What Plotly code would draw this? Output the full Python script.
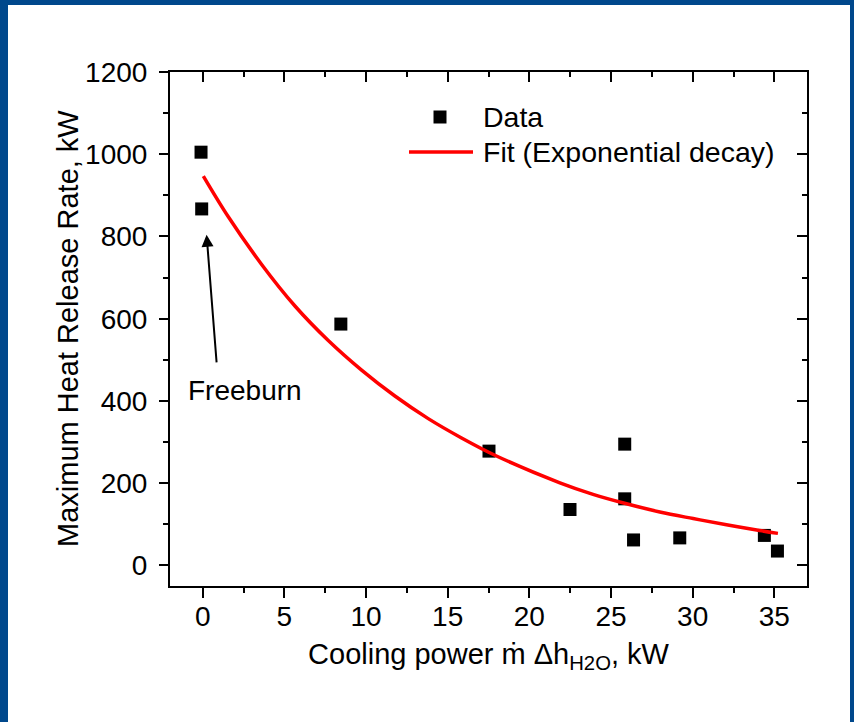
import plotly.graph_objects as go

# ---- data ----
cooling_power = [-0.1, -0.06, 8.46, 17.53, 22.49, 25.84, 25.84, 26.38, 29.21, 34.39, 35.19]
max_hrr = [1005, 867, 587, 278, 136, 295, 162, 62, 67, 73, 35]

fit_x = [0.04, 1.57, 3.61, 5.65, 7.69, 9.73, 11.77, 13.81, 15.85, 17.89,
         21.87, 23.9, 25.95, 27.99, 30.03, 32.07, 34.1, 35.22]
fit_y = [947, 848, 732, 631, 547, 475, 412, 357, 310, 268,
         201, 173, 150, 130, 114, 99, 85, 78]

x_ticks = [0, 5, 10, 15, 20, 25, 30, 35]
y_ticks = [0, 200, 400, 600, 800, 1000, 1200]

series_names = ["Data", "Fit (Exponential decay)"]

W, H = 854, 722
ML, MR, MT, MB = 170, 47, 72, 136
PW, PH = W - ML - MR, H - MT - MB
FONT = "Arial, Liberation Sans, sans-serif"
BLUE = "#00488c"
RED = "#ff0000"


def px_x(p):
    return (p - ML) / PW


def px_y(p):
    return (H - MB - p) / PH


fig = go.Figure()
fig.add_trace(go.Scatter(
    x=cooling_power, y=max_hrr, mode="markers", name=series_names[0],
    marker=dict(symbol="square", size=13, color="black"), showlegend=False))
fig.add_trace(go.Scatter(
    x=fit_x, y=fit_y, mode="lines", name=series_names[1],
    line=dict(color=RED, width=3.5, shape="spline", smoothing=1.0),
    showlegend=False))
# invisible trace to anchor the mirrored axes
fig.add_trace(go.Scatter(x=[None], y=[None], xaxis="x2", yaxis="y2",
                         showlegend=False, hoverinfo="skip"))

XR = [-2, 37]
YR = [-50, 1200]
common = dict(showgrid=False, zeroline=False, showline=True, linecolor="black",
              linewidth=2, tickcolor="black", tickwidth=2)

fig.update_layout(
    width=W, height=H,
    margin=dict(l=ML, r=MR, t=MT, b=MB),
    paper_bgcolor="white", plot_bgcolor="white",
    font=dict(family=FONT, size=28, color="black"),
    showlegend=False,
    xaxis=dict(range=XR, tickvals=x_ticks, ticks="outside", ticklen=10,
               minor=dict(ticks="outside", ticklen=5, dtick=2.5, tick0=0,
                          tickcolor="black", tickwidth=2),
               tickfont=dict(size=28), ticklabelstandoff=-6,
               title=dict(text="Cooling power ṁ Δh<sub>H2O</sub>, kW",
                          font=dict(size=29), standoff=13),
               **common),
    yaxis=dict(range=YR, tickvals=y_ticks, ticks="outside", ticklen=9,
               minor=dict(ticks="outside", ticklen=5, dtick=100, tick0=0,
                          tickcolor="black", tickwidth=2),
               tickfont=dict(size=28), ticklabelstandoff=6,
               **common),
    xaxis2=dict(range=XR, overlaying="x", side="top", tickvals=x_ticks,
                ticks="inside", ticklen=10, showticklabels=False,
                minor=dict(ticks="inside", ticklen=5, dtick=2.5, tick0=0,
                           tickcolor="black", tickwidth=2),
                **common),
    yaxis2=dict(range=YR, overlaying="y", side="right", tickvals=y_ticks,
                ticks="inside", ticklen=10, showticklabels=False,
                minor=dict(ticks="inside", ticklen=5, dtick=100, tick0=0,
                           tickcolor="black", tickwidth=2),
                **common),
)

# y-axis title
fig.add_annotation(x=px_x(68), y=px_y(329), xref="paper", yref="paper",
                   text="Maximum Heat Release Rate, kW", textangle=-90,
                   showarrow=False, font=dict(size=29),
                   xanchor="center", yanchor="middle")

# arrow and label
fig.add_annotation(x=0.24, y=804, ax=0.86, ay=490, xref="x", yref="y",
                   axref="x", ayref="y", text="", showarrow=True,
                   arrowhead=2, arrowsize=1.2, arrowwidth=2, arrowcolor="black")
fig.add_annotation(x=2.6, y=426, xref="x", yref="y", text="Freeburn",
                   showarrow=False, font=dict(size=28))

# legend (drawn by hand to match the reference layout)
fig.add_shape(type="rect", xref="paper", yref="paper",
              x0=px_x(433.5), x1=px_x(446.5), y0=px_y(123.5), y1=px_y(110.5),
              fillcolor="black", line=dict(width=0))
fig.add_shape(type="line", xref="paper", yref="paper",
              x0=px_x(409), x1=px_x(473), y0=px_y(152), y1=px_y(152),
              line=dict(color=RED, width=3.5))
for name, yy in zip(series_names, [117, 152]):
    fig.add_annotation(x=px_x(481), y=px_y(yy), xref="paper", yref="paper",
                       text=name, showarrow=False, font=dict(size=28.5),
                       xanchor="left", yanchor="middle")

# blue frame
for x0, x1, y0, y1 in [(0, 8, 0, H), (850, W, 0, H), (0, W, 0, 5)]:
    fig.add_shape(type="rect", xref="paper", yref="paper",
                  x0=px_x(x0), x1=px_x(x1), y0=px_y(y1), y1=px_y(y0),
                  fillcolor=BLUE, line=dict(width=0), layer="above")

fig.write_html("out.html")
